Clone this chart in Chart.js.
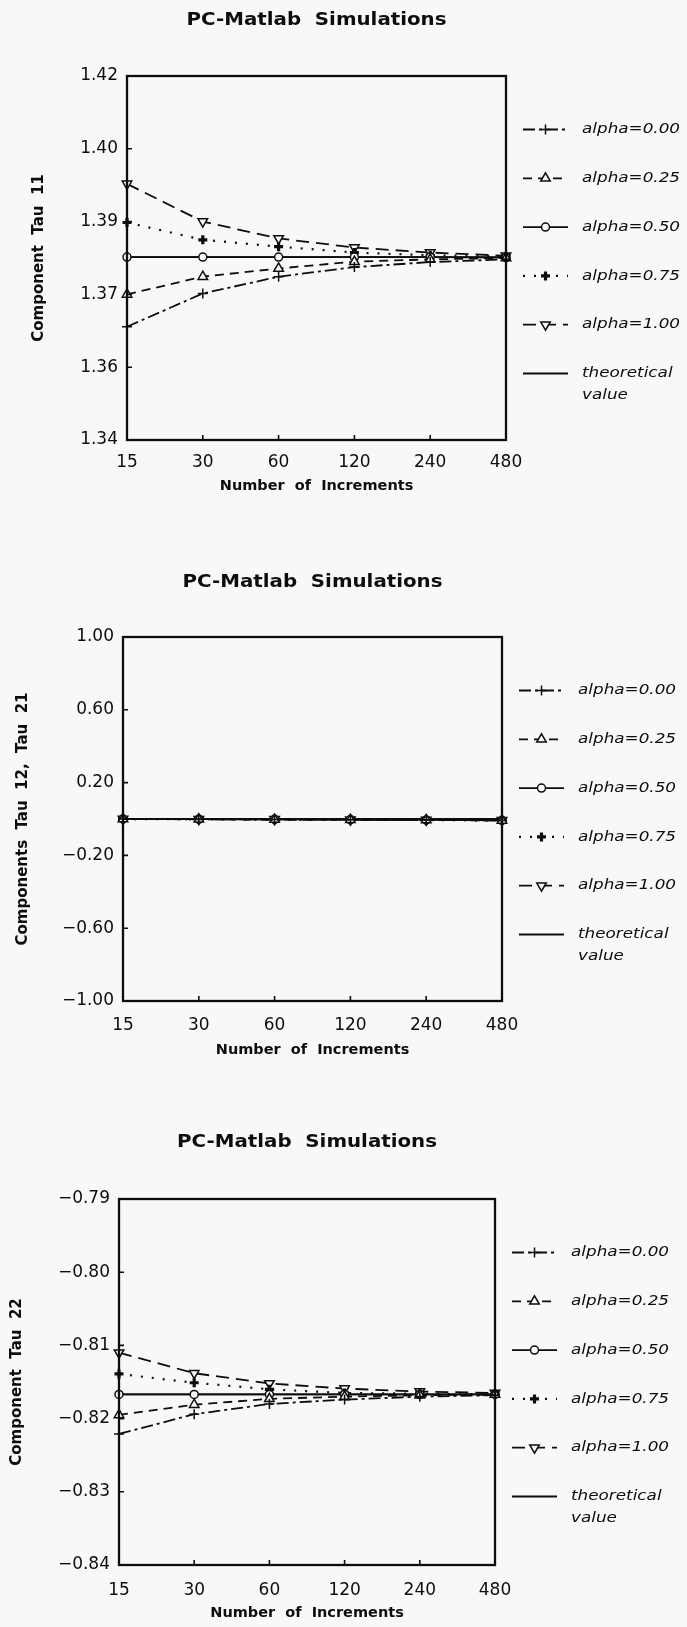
<!DOCTYPE html>
<html>
<head>
<meta charset="utf-8">
<title>PC-Matlab Simulations</title>
<script src="https://cdn.jsdelivr.net/npm/chart.js@4.4.1/dist/chart.umd.min.js"></script>
<style>
  html, body { margin: 0; padding: 0; background: #f8f8f8; }
  canvas { display: block; }
</style>
</head>
<body>
<canvas id="tau11" width="687" height="560"></canvas>
<canvas id="tau12" width="687" height="560"></canvas>
<canvas id="tau22" width="687" height="507"></canvas>
<script>
const increments = ['15', '30', '60', '120', '240', '480'];
const seriesLabels = ['alpha=0.00', 'alpha=0.25', 'alpha=0.50', 'alpha=0.75', 'alpha=1.00', 'theoretical\nvalue'];

// Component Tau 11
const tau11Alpha000 = [1.3649, 1.3722, 1.3759, 1.3780, 1.3791, 1.3797];
const tau11Alpha025 = [1.3720, 1.3759, 1.3777, 1.3792, 1.3797, 1.3800];
const tau11Alpha050 = [1.3802, 1.3802, 1.3802, 1.3802, 1.3802, 1.3801];
const tau11Alpha075 = [1.3878, 1.3840, 1.3825, 1.3812, 1.3806, 1.3803];
const tau11Alpha100 = [1.3963, 1.3880, 1.3843, 1.3823, 1.3812, 1.3805];
const tau11Theory   = [1.3802, 1.3802, 1.3802, 1.3802, 1.3802, 1.3802];
const tau11Ticks = [1.34, 1.356, 1.372, 1.388, 1.404, 1.42];

// Components Tau 12, Tau 21
const tau12Alpha000 = [0.000, -0.002, -0.003, -0.004, -0.005, -0.008];
const tau12Alpha025 = [0.000, -0.001, -0.003, -0.004, -0.005, -0.008];
const tau12Alpha050 = [0.000, -0.001, -0.002, -0.003, -0.005, -0.007];
const tau12Alpha075 = [0.000, -0.002, -0.003, -0.004, -0.006, -0.008];
const tau12Alpha100 = [0.000, -0.001, -0.002, -0.004, -0.005, -0.007];
const tau12Theory   = [0, 0, 0, 0, 0, 0];
const tau12Ticks = [-1.0, -0.6, -0.2, 0.2, 0.6, 1.0];

// Component Tau 22
const tau22Alpha000 = [-0.8221, -0.8194, -0.8180, -0.8174, -0.8170, -0.8168];
const tau22Alpha025 = [-0.8195, -0.8181, -0.8173, -0.8170, -0.8168, -0.8167];
const tau22Alpha050 = [-0.8167, -0.8167, -0.8167, -0.8167, -0.8167, -0.8167];
const tau22Alpha075 = [-0.8139, -0.8151, -0.8160, -0.8165, -0.8166, -0.8167];
const tau22Alpha100 = [-0.8110, -0.8138, -0.8152, -0.8159, -0.8163, -0.8165];
const tau22Theory   = [-0.8167, -0.8167, -0.8167, -0.8167, -0.8167, -0.8167];
const tau22Ticks = [-0.84, -0.83, -0.82, -0.81, -0.80, -0.79];

const INK = '#0d0d0d';
const BG = '#f8f8f8';
const FACE = '"DejaVu Sans", "Liberation Sans", sans-serif';

// line + marker look of each series, same order as seriesLabels
const seriesStyles = [
  { dash: [12, 4, 3, 4], width: 1.8, point: 'cross', radius: 5, pointWidth: 1.5 },
  { dash: [9, 6], width: 1.8, point: 'triangle', radius: 5.5, pointWidth: 1.5 },
  { dash: [], width: 1.8, point: 'circle', radius: 4, pointWidth: 1.5 },
  { dash: [2, 9], width: 2.2, point: 'cross', radius: 4.5, pointWidth: 3.2 },
  { dash: [13, 7], width: 1.8, point: 'triangle', radius: 5.5, rotation: 180, pointWidth: 1.5 },
  { dash: [], width: 1.8, point: null, radius: 0 },
];

function fmtTick(v) {
  return (v < -1e-9 ? '\u2212' : '') + Math.abs(v).toFixed(2);
}

function wideText(ctx, text, x, y, sx) {
  ctx.save();
  ctx.translate(x, y);
  ctx.scale(sx, 1);
  ctx.fillText(text, 0, 0);
  ctx.restore();
}

function marker(ctx, style, r, rot, x, y) {
  ctx.beginPath();
  if (style === 'cross') {
    ctx.moveTo(x - r, y); ctx.lineTo(x + r, y);
    ctx.moveTo(x, y - r); ctx.lineTo(x, y + r);
    ctx.stroke();
    return;
  }
  if (style === 'circle') {
    ctx.arc(x, y, r, 0, Math.PI * 2);
  } else if (style === 'triangle') {
    let a = (rot || 0) * Math.PI / 180;
    for (let k = 0; k < 3; k++) {
      const px = x + Math.sin(a) * r, py = y - Math.cos(a) * r;
      k ? ctx.lineTo(px, py) : ctx.moveTo(px, py);
      a += Math.PI * 2 / 3;
    }
    ctx.closePath();
  }
  ctx.fill();
  ctx.stroke();
}

const decor = {
  id: 'decor',
  beforeDraw(chart) {
    const ctx = chart.ctx;
    ctx.save();
    ctx.fillStyle = BG;
    ctx.fillRect(0, 0, chart.width, chart.height);
    ctx.restore();
  },
  afterDraw(chart, args, opts) {
    const { ctx, chartArea: a, scales } = chart;
    ctx.save();
    ctx.strokeStyle = INK;
    ctx.fillStyle = INK;

    // frame and inward ticks
    ctx.lineWidth = 2.3;
    ctx.setLineDash([]);
    ctx.strokeRect(a.left, a.top, a.right - a.left, a.bottom - a.top);
    ctx.lineWidth = 1.6;
    ctx.beginPath();
    scales.y.ticks.slice(1, -1).forEach(t => {
      const py = scales.y.getPixelForValue(t.value);
      ctx.moveTo(a.left, py); ctx.lineTo(a.left + 5, py);
    });
    for (let i = 1; i < increments.length - 1; i++) {
      const px = scales.x.getPixelForValue(i);
      ctx.moveTo(px, a.bottom); ctx.lineTo(px, a.bottom - 5);
    }
    ctx.stroke();

    // chart title
    ctx.font = 'bold 18px ' + FACE;
    ctx.textAlign = 'center';
    ctx.textBaseline = 'middle';
    wideText(ctx, 'PC-Matlab  Simulations', (a.left + a.right) / 2, a.top - opts.titleGap, 1.1);

    // legend
    const x1 = a.right + 17, x2 = a.right + 62, tx = a.right + 76;
    ctx.font = 'italic 14px ' + FACE;
    ctx.textAlign = 'left';
    chart.data.datasets.forEach((ds, i) => {
      const s = seriesStyles[i];
      const y = a.top + 53.5 + i * 48.8;
      ctx.lineWidth = s.width;
      ctx.setLineDash(s.dash);
      ctx.beginPath();
      ctx.moveTo(x1, y); ctx.lineTo(x2, y);
      ctx.stroke();
      ctx.setLineDash([]);
      if (s.point) {
        ctx.lineWidth = s.pointWidth;
        ctx.fillStyle = BG;
        marker(ctx, s.point, s.radius, s.rotation, (x1 + x2) / 2, y);
        ctx.fillStyle = INK;
      }
      ds.label.split('\n').forEach((line, j) => wideText(ctx, line, tx, y + j * 21.5, 1.2));
    });
    ctx.restore();
  }
};

function makeChart(id, values, ticks, yTitle, box) {
  const canvas = document.getElementById(id);
  const W = canvas.width, H = canvas.height;
  const axisH = 60;
  const datasets = values.map((vals, i) => {
    const s = seriesStyles[i];
    return {
      label: seriesLabels[i],
      data: vals,
      borderColor: INK,
      borderWidth: s.width,
      borderDash: s.dash,
      pointStyle: s.point || 'circle',
      pointRadius: s.point ? s.radius : 0,
      pointRotation: s.rotation || 0,
      pointBorderWidth: s.pointWidth || 1,
      pointBorderColor: INK,
      pointBackgroundColor: BG,
      tension: 0,
      fill: false,
      clip: false
    };
  });
  return new Chart(canvas, {
    type: 'line',
    data: { labels: increments, datasets: datasets },
    options: {
      responsive: false,
      animation: false,
      events: [],
      layout: { padding: { left: 0, right: W - box.right, top: box.top, bottom: H - box.bottom - axisH } },
      plugins: {
        legend: { display: false },
        tooltip: { enabled: false },
        decor: { titleGap: box.titleGap }
      },
      scales: {
        x: {
          grid: { display: false, drawTicks: false },
          border: { display: false },
          ticks: { color: INK, font: { family: FACE, size: 17 }, padding: box.xTickPad, maxRotation: 0, autoSkip: false },
          title: {
            display: true, text: 'Number  of  Increments', color: INK,
            font: { family: FACE, size: 14.5, weight: 'bold' },
            padding: { top: 0, bottom: box.xTitlePad }
          },
          afterFit: s => { s.height = axisH; }
        },
        y: {
          min: ticks[0],
          max: ticks[ticks.length - 1],
          afterBuildTicks: s => { s.ticks = ticks.map(v => ({ value: v })); },
          grid: { display: false, drawTicks: false },
          border: { display: false },
          ticks: { color: INK, font: { family: FACE, size: 17 }, padding: 9, callback: v => fmtTick(v) },
          title: {
            display: true, text: yTitle, color: INK,
            font: { family: FACE, size: 15, weight: 'bold' },
            padding: { top: box.yTitleX - 9, bottom: 0 }
          },
          afterFit: s => { s.width = box.left; }
        }
      }
    },
    plugins: [decor]
  });
}

makeChart('tau11',
  [tau11Alpha000, tau11Alpha025, tau11Alpha050, tau11Alpha075, tau11Alpha100, tau11Theory],
  tau11Ticks, 'Component  Tau  11',
  { left: 127, right: 506, top: 76, bottom: 440, yTitleX: 39, xTickPad: 12.5, xTitlePad: 4.6, titleGap: 56 });

makeChart('tau12',
  [tau12Alpha000, tau12Alpha025, tau12Alpha050, tau12Alpha075, tau12Alpha100, tau12Theory],
  tau12Ticks, 'Components  Tau  12,  Tau  21',
  { left: 123, right: 502, top: 77, bottom: 441, yTitleX: 23, xTickPad: 14, xTitlePad: 2.3, titleGap: 55 });

makeChart('tau22',
  [tau22Alpha000, tau22Alpha025, tau22Alpha050, tau22Alpha075, tau22Alpha100, tau22Theory],
  tau22Ticks, 'Component  Tau  22',
  { left: 119, right: 495, top: 79, bottom: 445, yTitleX: 17.5, xTickPad: 15, xTitlePad: 3.3, titleGap: 56.5 });
</script>
</body>
</html>
